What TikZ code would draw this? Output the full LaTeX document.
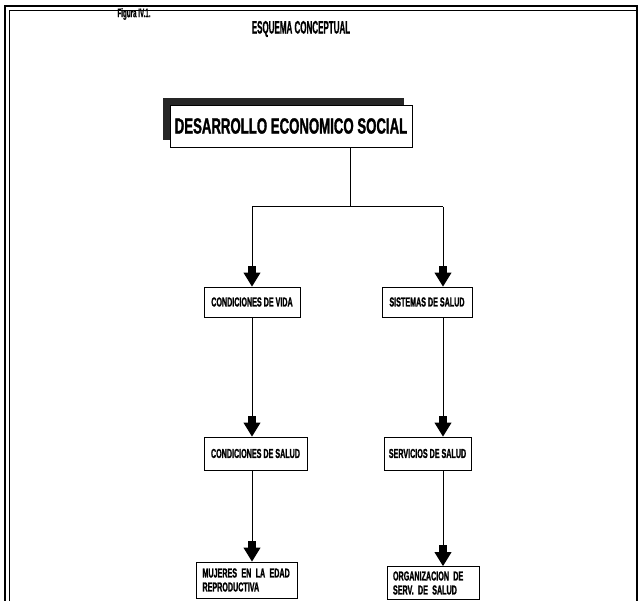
\documentclass[tikz,border=0pt]{standalone}
\usepackage{fontspec}
\newfontfamily\condfont{Liberation Sans}[FakeStretch=0.55,BoldFeatures={FakeBold=1.3}]
\newfontfamily\bigfont{Liberation Sans}[FakeStretch=0.6,BoldFeatures={FakeBold=1.3}]
\newfontfamily\narrowfont{Liberation Sans}[FakeStretch=0.445,BoldFeatures={FakeBold=0.7}]
\newfontfamily\smallfont{Liberation Sans}[FakeStretch=0.5,BoldFeatures={FakeBold=0.8}]
\usetikzlibrary{arrows.meta}

\begin{document}
\begin{tikzpicture}[x=1pt,y=-1pt,
  box/.style={draw,line width=0.9pt,inner sep=0pt,
    font=\condfont\bfseries\fontsize{13}{14}\selectfont},
  pairbox/.style={box,align=left},
  link/.style={line width=1pt},
  fat/.style={link,-{Rectangle[width=8pt,length=7pt]Triangle[width=17pt,length=14pt]}},
  frame/.style={line width=1.4pt},
  frameinner/.style={line width=0.5pt}]
\useasboundingbox (0,0) rectangle (641,601);

% page frame: double rule on top and left, single on the right
\draw[frame] (5,601) -- (5,6) -- (637,6) -- (637,601);
\draw[frameinner] (9,601) -- (9,10) -- (637,10);

% headings
\node[font=\smallfont\bfseries\fontsize{12.5}{14}\selectfont] (fig) at (134,14) {Figura IV.1.};
\node[font=\narrowfont\bfseries\fontsize{18}{20}\selectfont] (title) at (301,29) {ESQUEMA CONCEPTUAL};

% top box with its dark offset shadow
\fill[black!85] (163,98) rectangle (404,140);
\node[box,fill=white,minimum width=242pt,minimum height=42pt,
  font=\bigfont\bfseries\fontsize{22}{24}\selectfont] (des) at (291,126)
  {DESARROLLO ECONOMICO SOCIAL};

% branch points
\coordinate (split) at (350,207);
\coordinate (lcol) at (252,207);
\coordinate (rcol) at (443,207);

% first row
\node[box,minimum width=96pt,minimum height=30pt] (vida) at (252,302) {CONDICIONES DE VIDA};
\node[box,minimum width=90pt,minimum height=30pt] (sist) at (427,302) {SISTEMAS DE SALUD};

% second row
\node[box,minimum width=103pt,minimum height=33pt] (csal) at (255.5,453.5) {CONDICIONES DE SALUD};
\node[box,minimum width=87pt,minimum height=33pt] (serv) at (427.5,453.5) {SERVICIOS DE SALUD};

% third row
\node[pairbox,minimum width=101pt,minimum height=36pt,text width=88pt] (muj) at (246.5,580)
  {MUJERES EN LA EDAD\\REPRODUCTIVA};
\node[pairbox,minimum width=92pt,minimum height=33pt,text width=80pt] (org) at (433,583)
  {ORGANIZACION DE\\SERV. DE SALUD};

% connectors
\draw[link] (des.south -| split) -- (split);
\draw[link] (lcol) -- (rcol);
\draw[fat] (lcol) -- (vida.north -| lcol);
\draw[fat] (rcol) -- (sist.north -| rcol);
\draw[fat] (vida.south -| lcol) -- (csal.north -| lcol);
\draw[fat] (sist.south -| rcol) -- (serv.north -| rcol);
\draw[fat] (csal.south -| lcol) -- (muj.north -| lcol);
\draw[fat] (serv.south -| rcol) -- (org.north -| rcol);
\end{tikzpicture}
\end{document}
